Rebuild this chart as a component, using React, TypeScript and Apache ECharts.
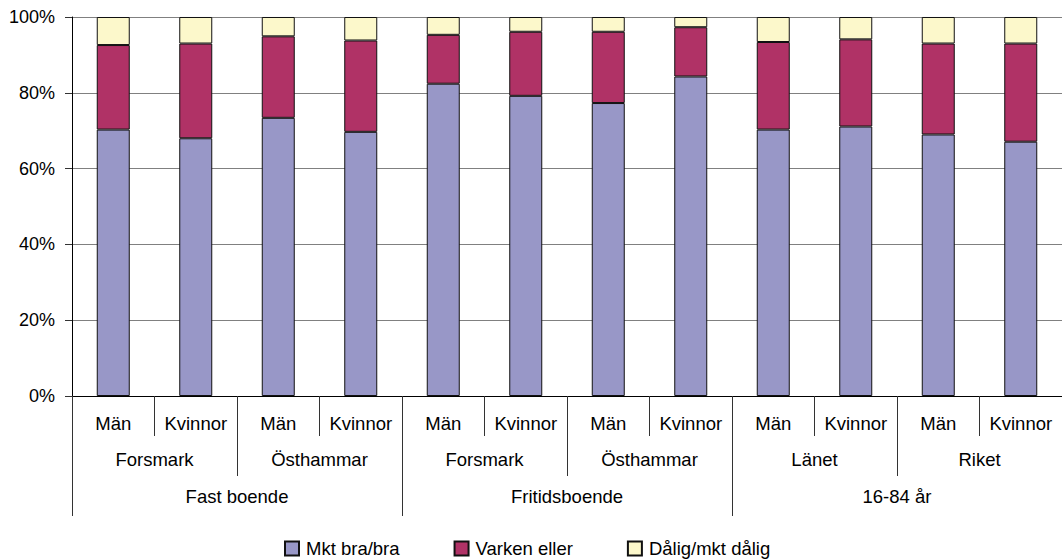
import React, { useEffect, useRef } from "react";
import * as echarts from "echarts";

const genderLabels = ["Män", "Kvinnor", "Män", "Kvinnor", "Män", "Kvinnor", "Män", "Kvinnor", "Män", "Kvinnor", "Män", "Kvinnor"];
const placeLabels = ["Forsmark", "Östhammar", "Forsmark", "Östhammar", "Länet", "Riket"];
const groupLabels = ["Fast boende", "Fritidsboende", "16-84 år"];

const seriesNames = ["Mkt bra/bra", "Varken eller", "Dålig/mkt dålig"];
const mktBra = [70.3, 68.0, 73.4, 69.7, 82.4, 79.2, 77.3, 84.3, 70.3, 71.1, 69.0, 67.1];
const varken = [22.3, 25.0, 21.5, 24.1, 12.9, 16.9, 18.8, 13.0, 23.1, 23.0, 24.0, 25.9];
const dalig = [7.4, 7.0, 5.1, 6.2, 4.7, 3.9, 3.9, 2.7, 6.6, 5.9, 7.0, 7.0];
const yTicks = [0, 20, 40, 60, 80, 100];

const colors = ["#9897c7", "#b03266", "#fcf8cb"];
const FONT = "'Liberation Sans', Arial, sans-serif";

export default function App() {
  const ref = useRef<HTMLDivElement>(null);
  useEffect(() => {
    if (!ref.current) return;
    const chart = echarts.init(ref.current, undefined, { renderer: "svg" });
    const tickStyle = { color: "#333333", width: 1 };
    const catAxis = (data: string[], offset: number, margin: number, showLine: boolean) => ({
      type: "category" as const,
      position: "bottom" as const,
      offset,
      data,
      boundaryGap: true,
      axisLine: { show: showLine, lineStyle: { color: "#000000", width: 1 } },
      axisTick: { show: true, interval: 0, length: 40, lineStyle: tickStyle },
      axisLabel: { interval: 0, margin, fontSize: 18.5, color: "#000000", fontFamily: FONT },
      splitLine: { show: false },
    });
    const values = [mktBra, varken, dalig];
    chart.setOption({
      animation: false,
      grid: { left: 72, top: 17, width: 999, height: 379 },
      legend: {
        left: 284,
        top: 539,
        padding: 0,
        itemWidth: 14,
        itemHeight: 14,
        itemGap: 54,
        icon: "rect",
        textStyle: { fontSize: 18.5, color: "#000000", fontFamily: FONT, padding: [0, 0, 0, 2] },
        data: seriesNames,
      },
      xAxis: [
        catAxis(genderLabels, 0, 18, true),
        catAxis(placeLabels, 40, 14, false),
        catAxis(groupLabels, 80, 11, false),
      ],
      yAxis: {
        type: "value",
        min: yTicks[0],
        max: yTicks[yTicks.length - 1],
        interval: 20,
        axisLine: { show: true, lineStyle: { color: "#000000", width: 1 } },
        axisTick: { show: true, length: 7, lineStyle: tickStyle },
        axisLabel: { formatter: "{value}%", fontSize: 18, color: "#000000", fontFamily: FONT, margin: 17 },
        splitLine: { show: true, lineStyle: { color: "#808080", width: 1 } },
      },
      series: seriesNames.map((name, i) => ({
        name,
        type: "bar",
        stack: "total",
        xAxisIndex: 0,
        barWidth: 33,
        data: values[i],
        itemStyle: { color: colors[i], borderColor: "#111111", borderWidth: 1 },
      })),
    });
    return () => chart.dispose();
  }, []);
  return (
    <div
      ref={ref}
      style={{ position: "absolute", left: 0, top: 0, width: 1062, height: 559, background: "#ffffff" }}
    />
  );
}
